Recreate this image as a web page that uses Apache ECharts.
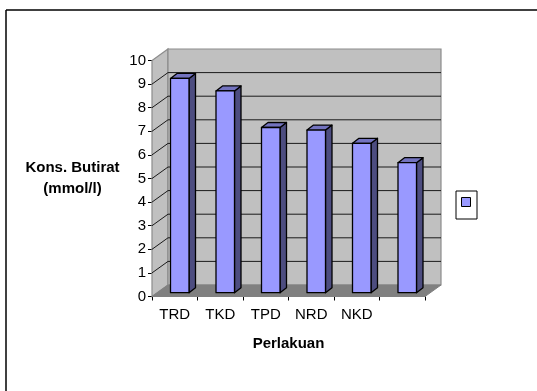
<!DOCTYPE html>
<html><head><meta charset="utf-8">
<style>html,body{margin:0;padding:0;background:#fff}#c{width:537px;height:391px}</style>
<script src="https://cdn.jsdelivr.net/npm/echarts@6/dist/echarts.min.js"></script>
</head><body><div id="c"></div>
<script>
var categories = ['TRD', 'TKD', 'TPD', 'NRD', 'NKD', ''];
var values = [9.08, 8.55, 7.0, 6.89, 6.33, 5.51];
var yTicks = [0, 1, 2, 3, 4, 5, 6, 7, 8, 9, 10];
var seriesName = ' ';

var FONT = '"Liberation Sans", Arial, sans-serif';
var DX = 16, DY = -11.5;        // depth of the floor / side wall
var BDX = 6.5, BDY = -5;        // depth of a bar
var BAR_W = 18.5, BAR_OFF = 5;  // bar width, shift from band centre
var BASE_DY = -3.8;

var chart = echarts.init(document.getElementById('c'), null, {renderer: 'canvas'});

function pts(a) { return {points: a}; }

function renderWalls(params, api) {
  var cs = params.coordSys;
  var x0 = cs.x, x1 = cs.x + cs.width, yb = cs.y + cs.height, yt = cs.y;
  var kids = [];
  kids.push({type: 'polygon', shape: pts([[x0, yb], [x0 + DX, yb + DY], [x0 + DX, yt + DY], [x0, yt]]),
    style: {fill: '#c0c0c0', stroke: '#8c8c8c', lineWidth: 1.2}});
  kids.push({type: 'polygon', shape: pts([[x0 + DX, yb + DY], [x1 + DX, yb + DY], [x1 + DX, yt + DY], [x0 + DX, yt + DY]]),
    style: {fill: '#c0c0c0', stroke: '#8c8c8c', lineWidth: 1.2}});
  kids.push({type: 'polygon', shape: pts([[x0, yb], [x1, yb], [x1 + DX, yb + DY], [x0 + DX, yb + DY]]),
    style: {fill: '#808080', stroke: '#808080', lineWidth: 1}});
  yTicks.forEach(function (t) {
    if (t === 0 || t === 10) return;
    var y = api.coord([0, t])[1];
    kids.push({type: 'polyline', shape: pts([[x0, y], [x0 + DX, y + DY], [x1 + DX, y + DY]]),
      style: {stroke: '#1a1a1a', lineWidth: 1, fill: null}});
  });
  return {type: 'group', children: kids};
}

function renderBar(params, api) {
  var top = api.coord([api.value(0), api.value(1)]);
  var bot = api.coord([api.value(0), 0]);
  var l = top[0] + BAR_OFF - BAR_W / 2, r = l + BAR_W;
  var yt = top[1] + BASE_DY, yb = bot[1] + BASE_DY;
  var line = {stroke: '#000', lineWidth: 1.3, lineJoin: 'round'};
  return {type: 'group', children: [
    {type: 'polygon', shape: pts([[r, yt], [r + BDX, yt + BDY], [r + BDX, yb + BDY], [r, yb]]),
      style: Object.assign({fill: '#4d4d80'}, line)},
    {type: 'polygon', shape: pts([[l, yt], [r, yt], [r + BDX, yt + BDY], [l + BDX, yt + BDY]]),
      style: Object.assign({fill: '#7373bf'}, line)},
    {type: 'rect', shape: {x: l, y: yt, width: BAR_W, height: yb - yt},
      style: Object.assign({fill: '#9999ff'}, line)}
  ]};
}

chart.setOption({
  animation: false,
  backgroundColor: '#fff',
  textStyle: {fontFamily: FONT},
  grid: {left: 152, top: 60.5, width: 273, height: 236, containLabel: false},
  graphic: [
    {type: 'line', silent: true, shape: {x1: 6, y1: 10, x2: 537, y2: 10},
      style: {stroke: '#000', lineWidth: 1.5}},
    {type: 'line', silent: true, shape: {x1: 6, y1: 10, x2: 6, y2: 391},
      style: {stroke: '#000', lineWidth: 1.5}},
    {type: 'text', silent: true, x: 72.5, y: 157.5, style: {text: 'Kons. Butirat\n(mmol/l)', align: 'center',
      font: 'bold 15px ' + FONT, fill: '#000', lineHeight: 21}}
  ],
  legend: {
    left: 456, top: 191, orient: 'vertical', data: [seriesName],
    icon: 'rect',
    itemWidth: 9, itemHeight: 9, itemGap: 0, padding: [6, 6, 12, 5],
    borderColor: '#000', borderWidth: 1, backgroundColor: '#fff',
    textStyle: {fontSize: 1, color: '#fff', padding: 0}, formatter: function () { return ''; },
    selectedMode: false,
    itemStyle: {color: '#9999ff', borderColor: '#000', borderWidth: 1}
  },
  xAxis: {
    type: 'category', data: categories, name: 'Perlakuan', nameLocation: 'middle', nameGap: 40,
    nameTextStyle: {fontWeight: 'bold', fontSize: 15, color: '#000', fontFamily: FONT},
    axisLine: {lineStyle: {color: '#000', width: 1}},
    axisTick: {show: true, length: 4, alignWithLabel: false, lineStyle: {color: '#000'}},
    axisLabel: {color: '#000', fontSize: 15, margin: 11, fontFamily: FONT, interval: 0},
    splitLine: {show: false}
  },
  yAxis: {
    type: 'value', min: 0, max: 10, interval: 1,
    axisLine: {show: true, lineStyle: {color: '#000', width: 1}},
    axisTick: {show: true, length: 4, lineStyle: {color: '#000'}},
    axisLabel: {color: '#000', fontSize: 15, margin: 6, fontFamily: FONT},
    splitLine: {show: false}
  },
  series: [
    {type: 'custom', name: '__walls', coordinateSystem: 'cartesian2d', silent: true, z: 1,
     renderItem: renderWalls, data: [[0, 0]], encode: {x: 0, y: 1}, clip: false},
    {type: 'custom', name: seriesName, coordinateSystem: 'cartesian2d', z: 2,
     itemStyle: {color: '#9999ff'},
     renderItem: renderBar, encode: {x: 0, y: 1}, clip: false,
     data: categories.map(function (c, i) { return [i, values[i]]; })}
  ]
});
</script></body></html>
